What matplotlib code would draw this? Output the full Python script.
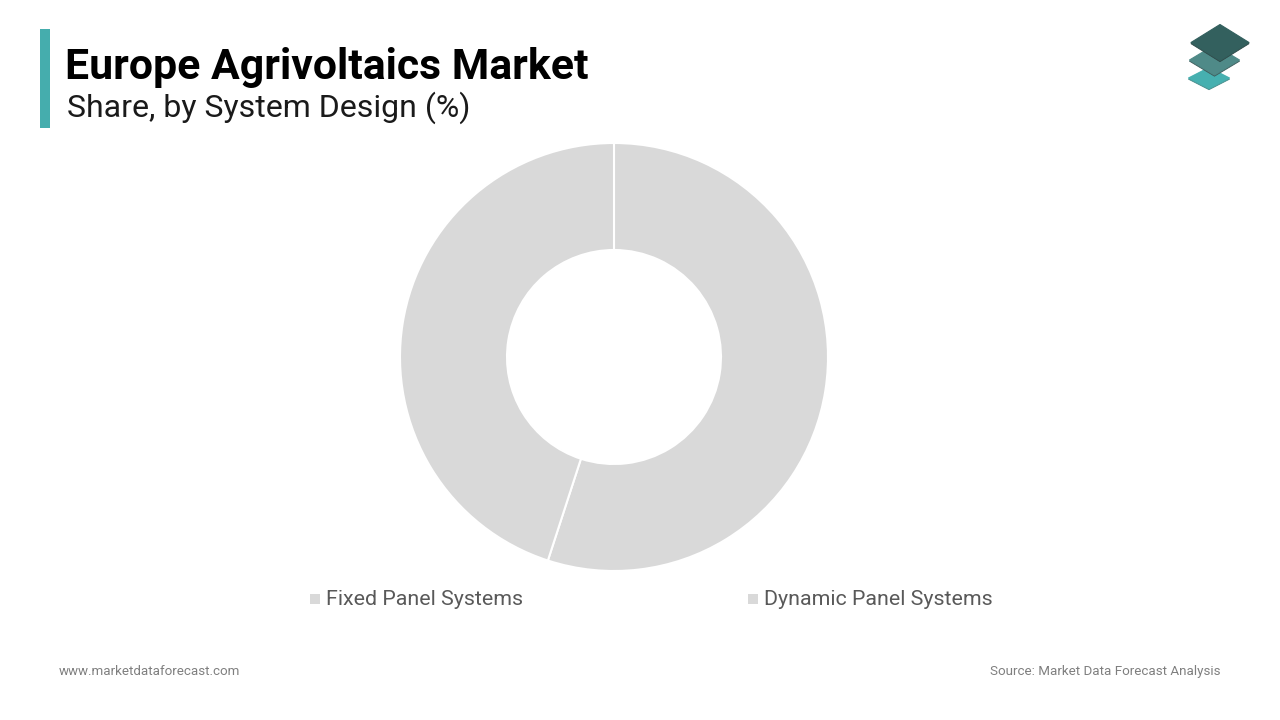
import matplotlib
matplotlib.use("Agg")
import matplotlib.pyplot as plt
from matplotlib.patches import Rectangle, Polygon

categories = ["Fixed Panel Systems", "Dynamic Panel Systems"]
shares = [55, 45]
title = "Europe Agrivoltaics Market"
subtitle = "Share, by System Design (%)"
site = "www.marketdataforecast.com"
source = "Source: Market Data Forecast Analysis"

plt.rcParams['font.family'] = ['Roboto', 'DejaVu Sans']
W, H = 1280, 720
fig = plt.figure(figsize=(W / 100, H / 100), dpi=100, facecolor="white")

# overlay in pixel coordinates
bg = fig.add_axes([0, 0, 1, 1])
bg.set_xlim(0, W)
bg.set_ylim(H, 0)
bg.axis("off")

# donut
cx, cy, R, r = 614, 357, 214, 107
pie_ax = fig.add_axes([(cx - R) / W, 1 - (cy + R) / H, 2 * R / W, 2 * R / H])
pie_ax.pie(shares, startangle=90, counterclock=False, radius=1,
           colors=["#d9d9d9", "#d9d9d9"],
           wedgeprops=dict(width=1 - r / R, edgecolor="white", linewidth=1.5))
pie_ax.set_xlim(-1, 1)
pie_ax.set_ylim(-1, 1)

# header
bg.add_patch(Rectangle((40, 29), 10, 99, color="#45adad", lw=0))
bg.text(65, 67, title, fontsize=30.75, fontweight="bold", color="#000000", va="center", ha="left")
bg.text(67, 107.5, subtitle, fontsize=23, color="#1a1a1a", va="center", ha="left")

# legend
for x_box, x_text, label in zip([310, 748], [326, 764], categories):
    bg.add_patch(Rectangle((x_box, 594), 10, 10, color="#d9d9d9", lw=0))
    bg.text(x_text, 599.5, label, fontsize=15.38, color="#595959", va="center", ha="left")

# footer
bg.text(59, 671.5, site, fontsize=9.6, color="#7f7f7f", va="center", ha="left")
bg.text(1220, 671.5, source, fontsize=9.6, color="#7f7f7f", va="center", ha="right")

# logo
def diamond(cxp, cyp, hw, hh, color, shade, z):
    for dy, c, zz, lw in [(1.2, shade, z, 0.6), (0, color, z + 0.5, 0.8)]:
        bg.add_patch(Polygon([(cxp - hw, cyp + dy), (cxp, cyp - hh + dy), (cxp + hw, cyp + dy), (cxp, cyp + hh + dy)],
                             closed=True, facecolor=c, edgecolor=c, lw=lw, joinstyle="round", zorder=zz))

diamond(1209, 78, 20.5, 10.5, "#46b0b0", "#4a8e8d", 3)
diamond(1214.5, 60, 25, 15, "#4f8a88", "#3f5f5e", 4)
diamond(1220, 42.5, 29, 18, "#33605e", "#2f4a49", 5)

fig.savefig("out.png", dpi=100, facecolor="white")
